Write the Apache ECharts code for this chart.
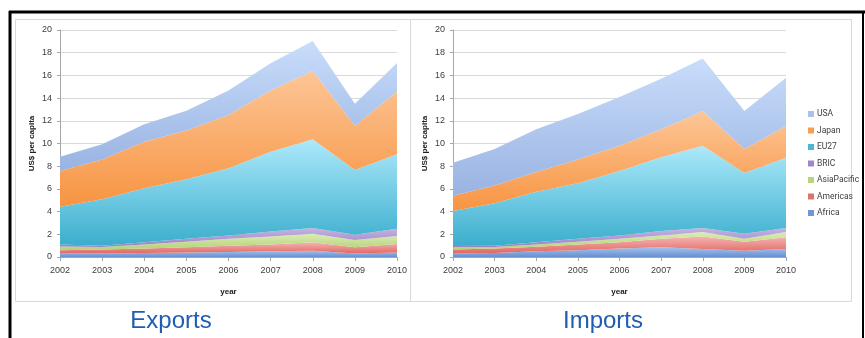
<!DOCTYPE html>
<html>
<head>
<meta charset="utf-8">
<script src="https://cdn.jsdelivr.net/npm/echarts@6/dist/echarts.min.js"></script>
<style>
  html, body { margin: 0; padding: 0; background: #fff; }
  #chart { width: 865px; height: 338px; }
</style>
</head>
<body>
<div id="chart"></div>
<script>
// Years on the horizontal axis
const years = ['2002', '2003', '2004', '2005', '2006', '2007', '2008', '2009', '2010'];
const yTicks = [0, 2, 4, 6, 8, 10, 12, 14, 16, 18, 20];

// Regions, bottom of the stack first
const regions = ['Africa', 'Americas', 'AsiaPacific', 'BRIC', 'EU27', 'Japan', 'USA'];
const legendOrder = ['USA', 'Japan', 'EU27', 'BRIC', 'AsiaPacific', 'Americas', 'Africa'];

// Exports, US$ per capita
const expAfrica      = [0.30, 0.30, 0.35, 0.40, 0.45, 0.50, 0.55, 0.30, 0.40];
const expAmericas    = [0.30, 0.35, 0.40, 0.45, 0.55, 0.60, 0.75, 0.55, 0.75];
const expAsiaPacific = [0.32, 0.23, 0.35, 0.50, 0.60, 0.70, 0.75, 0.65, 0.70];
const expBRIC        = [0.18, 0.12, 0.20, 0.25, 0.30, 0.45, 0.50, 0.45, 0.65];
const expEU27        = [3.33, 4.08, 4.75, 5.24, 5.91, 7.03, 7.82, 5.71, 6.55];
const expJapan       = [3.15, 3.50, 4.10, 4.30, 4.70, 5.40, 6.05, 3.90, 5.50];
const expUSA         = [1.25, 1.35, 1.55, 1.75, 2.15, 2.40, 2.60, 1.95, 2.55];

// Imports, US$ per capita
const impAfrica      = [0.30, 0.35, 0.50, 0.60, 0.75, 0.85, 0.70, 0.55, 0.70];
const impAmericas    = [0.35, 0.40, 0.40, 0.50, 0.55, 0.75, 1.10, 0.80, 1.05];
const impAsiaPacific = [0.20, 0.13, 0.20, 0.25, 0.30, 0.30, 0.40, 0.25, 0.45];
const impBRIC        = [0.12, 0.12, 0.20, 0.25, 0.30, 0.40, 0.35, 0.45, 0.35];
const impEU27        = [3.08, 3.73, 4.45, 4.89, 5.68, 6.48, 7.26, 5.35, 6.20];
const impJapan       = [1.35, 1.57, 1.75, 2.11, 2.22, 2.47, 3.05, 2.12, 2.79];
const impUSA         = [2.90, 3.22, 3.75, 4.00, 4.30, 4.45, 4.64, 3.34, 4.26];

const exportsData = [expAfrica, expAmericas, expAsiaPacific, expBRIC, expEU27, expJapan, expUSA];
const importsData = [impAfrica, impAmericas, impAsiaPacific, impBRIC, impEU27, impJapan, impUSA];

// Fill shades: [top, bottom, legend swatch]
const shades = {
  Africa:      ['#a3c1ec', '#6690d2', '#6f97d6'],
  Americas:    ['#f6b4b2', '#df6763', '#e2716d'],
  AsiaPacific: ['#dcecb4', '#b2d176', '#b7d47f'],
  BRIC:        ['#c6b4e2', '#9a82c3', '#9f88c7'],
  EU27:        ['#ade9fb', '#3aaecd', '#48b8d6'],
  Japan:       ['#fdc697', '#f79442', '#f89d52'],
  USA:         ['#c9ddfb', '#99b3e2', '#a8c2ec']
};

const font = 'Liberation Sans';
const legendFont = 'Roboto';
const axisText = { color: '#404040', fontFamily: font, fontSize: 9 };

function makeSeries(data, idx, stack) {
  return regions.map((name, i) => ({
    name: name,
    type: 'line',
    stack: stack,
    xAxisIndex: idx,
    yAxisIndex: idx,
    data: data[i],
    showSymbol: false,
    symbol: 'none',
    lineStyle: { width: 0 },
    itemStyle: { color: shades[name][2] },
    areaStyle: {
      opacity: 1,
      color: new echarts.graphic.LinearGradient(0, 0, 0, 1, [
        { offset: 0, color: shades[name][0] },
        { offset: 1, color: shades[name][1] }
      ])
    },
    emphasis: { disabled: true },
    silent: true,
    z: 2
  }));
}

function xAxis(idx) {
  return {
    type: 'category',
    gridIndex: idx,
    data: years,
    boundaryGap: false,
    name: 'year',
    nameLocation: 'middle',
    nameGap: 31,
    nameTextStyle: { color: '#202020', fontFamily: font, fontSize: 8, fontWeight: 'bold' },
    axisLine: { show: true, lineStyle: { color: '#a6a6a6', width: 1 } },
    axisTick: { show: true, alignWithLabel: true, length: 4, lineStyle: { color: '#a6a6a6' } },
    axisLabel: Object.assign({ margin: 9, interval: 0 }, axisText),
    splitLine: { show: false }
  };
}

function yAxis(idx) {
  return {
    type: 'value',
    gridIndex: idx,
    min: yTicks[0],
    max: yTicks[yTicks.length - 1],
    interval: 2,
    name: 'US$ per capita',
    nameLocation: 'middle',
    nameGap: 24,
    nameRotate: 90,
    nameTextStyle: { color: '#202020', fontFamily: font, fontSize: 8, fontWeight: 'bold' },
    axisLine: { show: true, lineStyle: { color: '#a6a6a6', width: 1 } },
    axisTick: { show: true, length: 3, lineStyle: { color: '#a6a6a6' } },
    axisLabel: Object.assign({ margin: 8 }, axisText),
    splitLine: { show: true, lineStyle: { color: '#d9d9d9', width: 1 } }
  };
}

const chart = echarts.init(document.getElementById('chart'), null, { renderer: 'canvas' });

chart.setOption({
  backgroundColor: '#ffffff',
  animation: false,
  title: [
    { text: 'Exports', left: 166, top: 304, textAlign: 'center',
      textStyle: { color: '#1f5cb4', fontFamily: font, fontSize: 24, fontWeight: 'normal' } },
    { text: 'Imports', left: 598, top: 304, textAlign: 'center',
      textStyle: { color: '#1f5cb4', fontFamily: font, fontSize: 24, fontWeight: 'normal' } }
  ],
  grid: [
    { left: 60, top: 30, width: 337, height: 227 },
    { left: 453, top: 30, width: 333, height: 227 }
  ],
  xAxis: [xAxis(0), xAxis(1)],
  yAxis: [yAxis(0), yAxis(1)],
  legend: {
    data: legendOrder,
    orient: 'vertical',
    left: 803,
    top: 104,
    icon: 'rect',
    itemWidth: 6,
    itemHeight: 6,
    itemGap: 6.5,
    textStyle: { color: '#404040', fontFamily: legendFont, fontSize: 8.5, lineHeight: 10, padding: [0, 0, 0, -2] },
    selectedMode: false
  },
  graphic: [
    // outer frame
    { type: 'line', shape: { x1: 9, y1: 12, x2: 865, y2: 12 }, style: { stroke: '#000', lineWidth: 3 }, z: 10 },
    { type: 'line', shape: { x1: 10, y1: 11, x2: 10, y2: 338 }, style: { stroke: '#000', lineWidth: 3 }, z: 10 },
    { type: 'line', shape: { x1: 863, y1: 11, x2: 863, y2: 338 }, style: { stroke: '#000', lineWidth: 2 }, z: 10 },
    // chart panels
    { type: 'rect', shape: { x: 15.5, y: 19.5, width: 836, height: 282 }, style: { fill: null, stroke: '#d9d9d9', lineWidth: 1 }, z: 0 },
    { type: 'line', shape: { x1: 410.5, y1: 19.5, x2: 410.5, y2: 301.5 }, style: { stroke: '#d9d9d9', lineWidth: 1 }, z: 0 }
  ],
  series: makeSeries(exportsData, 0, 'exports').concat(makeSeries(importsData, 1, 'imports'))
});
</script>
</body>
</html>
